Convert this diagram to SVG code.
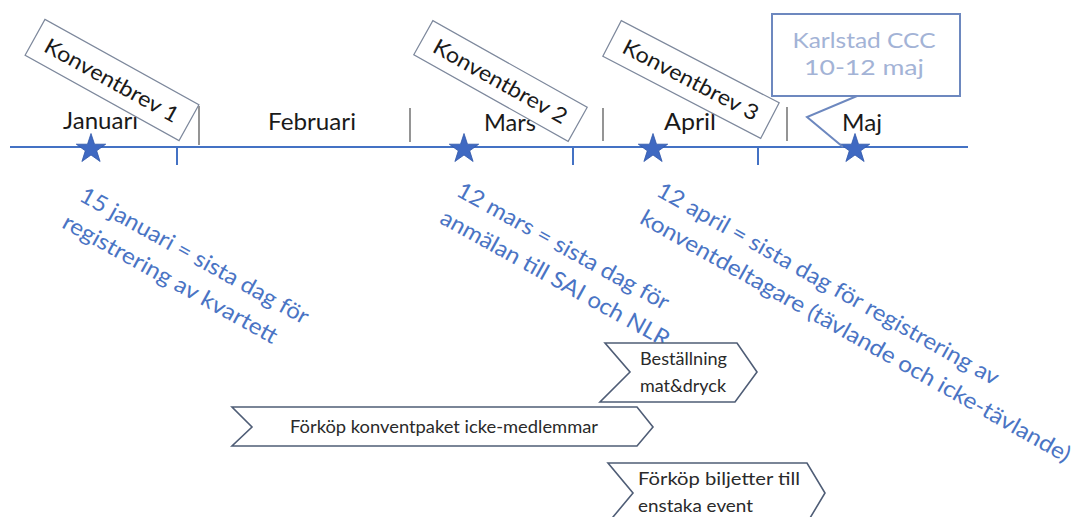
<svg xmlns="http://www.w3.org/2000/svg" xmlns:xlink="http://www.w3.org/1999/xlink" width="1082" height="517" viewBox="0 0 1082 517">
<style>
.lbl{font-family:Lato,"Liberation Sans",sans-serif;fill:#1a1a1a}
.month{font-size:22.5px}
.kb{font-size:21.5px}
.blue{font-family:Lato,"Liberation Sans",sans-serif;font-size:22.5px;fill:#4a74c4}
.kbox{fill:#fff;stroke:#7d889c;stroke-width:1.2}
.chev{fill:#fff;stroke:#4f5d76;stroke-width:1.6}
.ctext{font-family:Lato,"Liberation Sans",sans-serif;font-size:17.5px;fill:#2a2a2a}
.tick{stroke:#4d4d4d;stroke-width:1.2}
.dtick{stroke:#4472c4;stroke-width:2}
.star{fill:#3f69c2;stroke:#2f56a8;stroke-width:0.8}
.call{fill:#fff;stroke:#6d88bf;stroke-width:2}
.calltext{font-family:Lato,"Liberation Sans",sans-serif;font-size:21.5px;fill:#a3b3d6}
</style>
<defs>
<path id="star" d="M0,-15.5 L3.5,-4.8 L14.7,-4.8 L5.7,1.8 L9.1,12.5 L0,6 L-9.1,12.5 L-5.7,1.8 L-14.7,-4.8 L-3.5,-4.8 Z"/>
</defs>
<rect width="1082" height="517" fill="#fff"/>

<g id="timeline">
<line x1="10" y1="147" x2="968" y2="147" stroke="#4472c4" stroke-width="2"/>
<line class="tick" x1="199" y1="106" x2="199" y2="145"/>
<line class="tick" x1="410" y1="108" x2="410" y2="142"/>
<line class="tick" x1="603" y1="108" x2="603" y2="141"/>
<line class="tick" x1="787" y1="107" x2="787" y2="141"/>
<line class="dtick" x1="177" y1="147" x2="177" y2="165"/>
<line class="dtick" x1="573" y1="147" x2="573" y2="165"/>
<line class="dtick" x1="758" y1="147" x2="758" y2="165"/>
</g>

<g id="months">
<text class="lbl month" x="63" y="129" textLength="75" lengthAdjust="spacingAndGlyphs">Januari</text>
<text class="lbl month" x="268" y="130" textLength="88" lengthAdjust="spacingAndGlyphs">Februari</text>
<text class="lbl month" x="484" y="131" textLength="52" lengthAdjust="spacingAndGlyphs">Mars</text>
<text class="lbl month" x="664" y="130" textLength="52" lengthAdjust="spacingAndGlyphs">April</text>
<text class="lbl month" x="842" y="131" textLength="40" lengthAdjust="spacingAndGlyphs">Maj</text>
</g>

<g id="stars">
<use href="#star" xlink:href="#star" class="star" x="91" y="149"/>
<use href="#star" xlink:href="#star" class="star" x="464" y="149"/>
<use href="#star" xlink:href="#star" class="star" x="653" y="149"/>
<use href="#star" xlink:href="#star" class="star" x="855" y="149"/>
</g>

<g id="konventbrev1" transform="translate(112,80) rotate(29)">
<rect class="kbox" x="-88" y="-20.5" width="176" height="41"/>
<text class="lbl kb" x="0" y="8" text-anchor="middle" textLength="150" lengthAdjust="spacingAndGlyphs">Konventbrev 1</text>
</g>
<g id="konventbrev2" transform="translate(500.5,81) rotate(29.3)">
<rect class="kbox" x="-88.5" y="-19.5" width="177" height="39"/>
<text class="lbl kb" x="0" y="8" text-anchor="middle" textLength="150" lengthAdjust="spacingAndGlyphs">Konventbrev 2</text>
</g>
<g id="konventbrev3" transform="translate(691,79.5) rotate(27.5)">
<rect class="kbox" x="-89" y="-20" width="178" height="40"/>
<text class="lbl kb" x="0" y="8" text-anchor="middle" textLength="150" lengthAdjust="spacingAndGlyphs">Konventbrev 3</text>
</g>

<g id="karlstad">
<rect class="call" x="772" y="14" width="188" height="82"/>
<text class="calltext" x="864" y="48" text-anchor="middle" textLength="143" lengthAdjust="spacingAndGlyphs">Karlstad CCC</text>
<text class="calltext" x="864" y="75" text-anchor="middle" textLength="120" lengthAdjust="spacingAndGlyphs">10-12 maj</text>
</g>

<g id="connectors">
<polyline points="857,96 807,117 843,147" fill="none" stroke="#6d88bf" stroke-width="2"/>
</g>

<g id="note-januari" transform="translate(78,200) rotate(29)">
<text class="blue" x="0" y="0" textLength="258" lengthAdjust="spacingAndGlyphs">15 januari = sista dag för</text>
<text class="blue" x="-2" y="32" textLength="242" lengthAdjust="spacingAndGlyphs">registrering av kvartett</text>
</g>
<g id="note-mars" transform="translate(455,195) rotate(29)">
<text class="blue" x="0" y="0" textLength="239" lengthAdjust="spacingAndGlyphs">12 mars = sista dag för</text>
<text class="blue" x="-1" y="32" textLength="258" lengthAdjust="spacingAndGlyphs">anmälan till SAI och NLR</text>
</g>
<g id="note-april" transform="translate(655,195) rotate(29.4)">
<text class="blue" x="0" y="0" textLength="389" lengthAdjust="spacingAndGlyphs">12 april = sista dag för registrering av</text>
<text class="blue" x="-1" y="32" textLength="490" lengthAdjust="spacingAndGlyphs">konventdeltagare (tävlande och icke-tävlande)</text>
</g>

<g id="bestallning">
<polygon class="chev" points="605,343 737,343 757,372 735,402 600,402 630,372"/>
<text class="ctext" x="640" y="365" textLength="87" lengthAdjust="spacingAndGlyphs">Beställning</text>
<text class="ctext" x="640" y="392" textLength="86" lengthAdjust="spacingAndGlyphs">mat&amp;dryck</text>
</g>
<g id="forkop-konventpaket">
<polygon class="chev" points="232,407 637,407 653,427 637,446 232,446 252,427"/>
<text class="ctext" x="290" y="433" textLength="308" lengthAdjust="spacingAndGlyphs">Förköp konventpaket  icke-medlemmar</text>
</g>
<g id="forkop-biljetter">
<polygon class="chev" points="608,463 807,463 825,493 807,523 608,523 633,493"/>
<text class="ctext" x="638" y="485" textLength="162" lengthAdjust="spacingAndGlyphs">Förköp biljetter till</text>
<text class="ctext" x="638" y="512" textLength="115" lengthAdjust="spacingAndGlyphs">enstaka event</text>
</g>
</svg>
